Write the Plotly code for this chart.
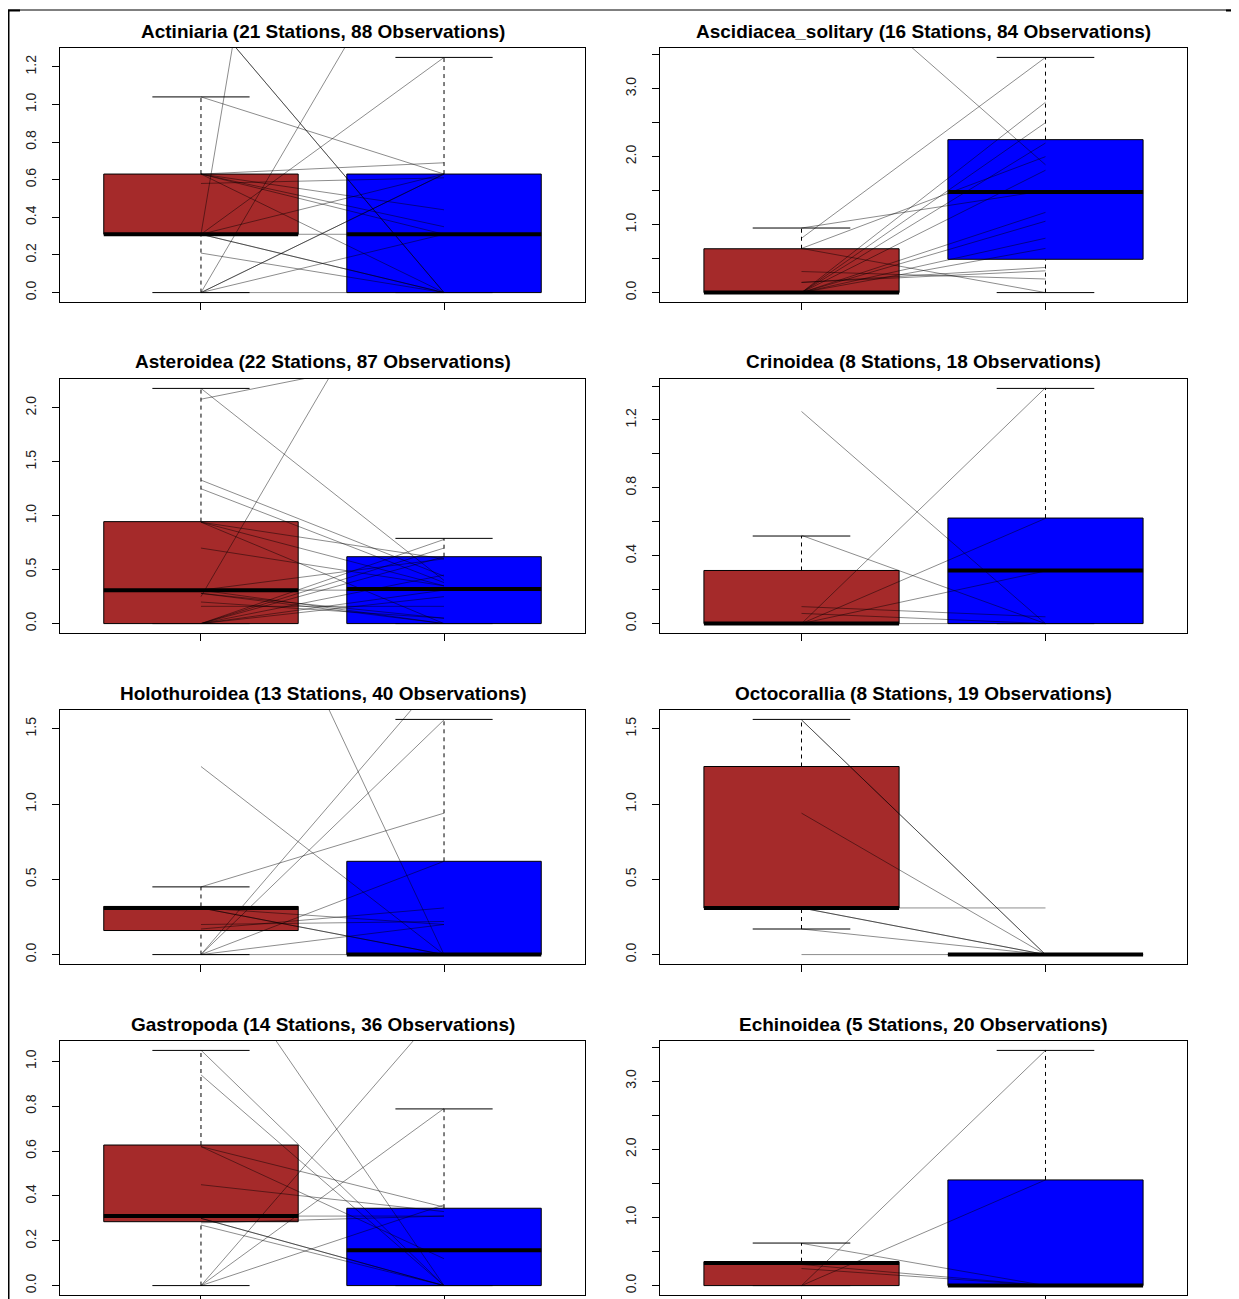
import plotly.graph_objects as go

W, H = 1239, 1299
OFF = 8  # the page body margin in the browser

titles = [
    "Actiniaria (21 Stations, 88 Observations)",
    "Ascidiacea_solitary (16 Stations, 84 Observations)",
    "Asteroidea (22 Stations, 87 Observations)",
    "Crinoidea (8 Stations, 18 Observations)",
    "Holothuroidea (13 Stations, 40 Observations)",
    "Octocorallia (8 Stations, 19 Observations)",
    "Gastropoda (14 Stations, 36 Observations)",
    "Echinoidea (5 Stations, 20 Observations)",
]

# box statistics: [lower whisker, q1, median, q3, upper whisker]
stats_before = [
    [0.0, 0.31, 0.31, 0.63, 1.04],
    [0.0, 0.0, 0.0, 0.645, 0.95],
    [0.0, 0.0, 0.31, 0.945, 2.18],
    [0.0, 0.0, 0.0, 0.313, 0.516],
    [0.0, 0.16, 0.31, 0.32, 0.45],
    [0.17, 0.31, 0.31, 1.25, 1.563],
    [0.0, 0.285, 0.31, 0.627, 1.049],
    [0.0, 0.0, 0.33, 0.35, 0.624],
]
stats_after = [
    [0.0, 0.0, 0.31, 0.63, 1.25],
    [0.0, 0.49, 1.48, 2.25, 3.46],
    [0.0, 0.0, 0.32, 0.62, 0.79],
    [0.0, 0.0, 0.313, 0.622, 1.386],
    [0.0, 0.0, 0.0, 0.62, 1.563],
    [0.0, 0.0, 0.0, 0.0, 0.0],
    [0.0, 0.0, 0.158, 0.345, 0.788],
    [0.0, 0.0, 0.0, 1.55, 3.45],
]

# paired station values (group 1 -> group 2)
pairs_before = [
    [1.04, 1.52, 1.52, 0.0, 0.31, 0.31, 0.63, 0.63, 0.31, 0.31, 0.21, 0.0, 0.0, 0.0, 0.63, 0.58, 0.31, 0.63, 0.31, 0.63, 0.0],
    [5.03, 0.8, 0.0, 0.0, 0.0, 0.0, 0.65, 0.0, 0.0, 0.0, 0.0, 0.31, 0.65, 0.15, 0.15, 0.95],
    [2.18, 2.08, 0.25, 1.33, 1.25, 0.94, 0.94, 0.94, 0.7, 0.31, 0.31, 0.28, 0.0, 0.0, 0.0, 0.0, 0.0, 0.16, 0.28, 0.2, 0.31, 0.0],
    [1.25, 0.0, 0.52, 0.0, 0.0, 0.1, 0.06, 0.0],
    [1.25, 3.44, 0.0, 0.0, 0.45, 0.0, 0.17, 0.31, 0.31, 0.0, 0.2, 0.31, 0.0],
    [1.56, 1.56, 0.94, 0.31, 0.31, 0.31, 0.17, 0.0],
    [1.05, 0.94, 1.58, 0.0, 0.0, 0.62, 0.45, 0.31, 0.28, 0.3, 0.3, 0.27, 0.0, 0.62],
    [0.0, 0.0, 0.62, 0.31, 0.25],
]
pairs_after = [
    [0.63, 0.0, 0.0, 2.2, 1.25, 8.0, 0.35, 0.0, 0.0, 0.0, 0.0, 0.31, 0.63, 0.63, 0.69, 0.61, 0.63, 0.31, 0.31, 0.44, 0.0],
    [1.88, 3.46, 2.8, 2.5, 2.2, 1.8, 2.0, 1.18, 1.05, 0.8, 0.65, 0.2, 0.0, 0.37, 0.32, 1.5],
    [0.4, 2.53, 4.1, 0.44, 0.38, 0.6, 0.35, 0.0, 0.35, 0.6, 0.31, 0.0, 0.78, 0.7, 0.45, 0.62, 0.31, 0.16, 0.05, 0.05, 0.0, 0.25],
    [0.0, 1.39, 0.0, 0.62, 0.31, 0.04, 0.0, 0.0],
    [0.0, 0.0, 1.88, 1.56, 0.94, 0.62, 0.31, 0.0, 0.0, 0.2, 0.22, 0.2, 0.0],
    [0.0, 0.0, 0.0, 0.0, 0.0, 0.31, 0.0, 0.0],
    [0.0, 0.0, 0.0, 1.25, 0.79, 0.35, 0.33, 0.31, 0.31, 0.0, 0.0, 0.0, 0.36, 0.12],
    [3.45, 1.55, 0.0, 0.0, 0.0],
]

ytick_vals = [
    [0.0, 0.2, 0.4, 0.6, 0.8, 1.0, 1.2],
    [0.0, 0.5, 1.0, 1.5, 2.0, 2.5, 3.0, 3.5],
    [0.0, 0.5, 1.0, 1.5, 2.0],
    [0.0, 0.2, 0.4, 0.6, 0.8, 1.0, 1.2, 1.4],
    [0.0, 0.5, 1.0, 1.5],
    [0.0, 0.5, 1.0, 1.5],
    [0.0, 0.2, 0.4, 0.6, 0.8, 1.0],
    [0.0, 0.5, 1.0, 1.5, 2.0, 2.5, 3.0, 3.5],
]
ytick_text = [
    ["0.0", "0.2", "0.4", "0.6", "0.8", "1.0", "1.2"],
    ["0.0", "", "1.0", "", "2.0", "", "3.0", ""],
    ["0.0", "0.5", "1.0", "1.5", "2.0"],
    ["0.0", "", "0.4", "", "0.8", "", "1.2", ""],
    ["0.0", "0.5", "1.0", "1.5"],
    ["0.0", "0.5", "1.0", "1.5"],
    ["0.0", "0.2", "0.4", "0.6", "0.8", "1.0"],
    ["0.0", "", "1.0", "", "2.0", "", "3.0", ""],
]

group_pos = [1, 2]
box_colors = ["#A52A2A", "#0000FF"]
BOX_HALF = 0.4
CAP_HALF = 0.2
LINE_COLOR = "rgba(0,0,0,0.45)"
FONT = "Liberation Sans, Arial, sans-serif"

# layout geometry (page pixels)
col_left = [60, 660]
col_right = [585, 1187]
row_top = [48, 379, 710, 1041]
row_bottom = [302, 633, 964, 1295]


def fx(px):
    return (px - OFF) / W


def fy(py):
    return 1 - (py - OFF) / H


fig = go.Figure()
layout = {}
annotations = []

for i in range(8):
    r, c = divmod(i, 2)
    n = i + 1
    xa = "x" if n == 1 else f"x{n}"
    ya = "y" if n == 1 else f"y{n}"
    xkey = "xaxis" if n == 1 else f"xaxis{n}"
    ykey = "yaxis" if n == 1 else f"yaxis{n}"

    groups = [stats_before[i], stats_after[i]]
    lo = min(g[0] for g in groups)
    hi = max(g[4] for g in groups)
    span = hi - lo
    yr = [lo - 0.04 * span, hi + 0.04 * span]
    xr = [0.5 - 0.04 * 2, 2.5 + 0.04 * 2]

    for g, st in enumerate(groups):
        cx = group_pos[g]
        lw, q1, md, q3, uw = st
        # whiskers (dashed)
        fig.add_trace(go.Scatter(x=[cx, cx, None, cx, cx], y=[q3, uw, None, lw, q1],
                                 mode="lines", line=dict(color="black", width=1, dash="4px,4px"),
                                 xaxis=xa, yaxis=ya, hoverinfo="skip", showlegend=False))
        # staples
        fig.add_trace(go.Scatter(x=[cx - CAP_HALF, cx + CAP_HALF, None, cx - CAP_HALF, cx + CAP_HALF],
                                 y=[uw, uw, None, lw, lw],
                                 mode="lines", line=dict(color="black", width=1),
                                 xaxis=xa, yaxis=ya, hoverinfo="skip", showlegend=False))
        # box
        fig.add_trace(go.Scatter(x=[cx - BOX_HALF, cx + BOX_HALF, cx + BOX_HALF, cx - BOX_HALF, cx - BOX_HALF],
                                 y=[q1, q1, q3, q3, q1], fill="toself", fillcolor=box_colors[g],
                                 mode="lines", line=dict(color="black", width=1),
                                 xaxis=xa, yaxis=ya, hoverinfo="skip", showlegend=False))
        # median
        fig.add_trace(go.Scatter(x=[cx - BOX_HALF, cx + BOX_HALF], y=[md, md],
                                 mode="lines", line=dict(color="black", width=4),
                                 xaxis=xa, yaxis=ya, hoverinfo="skip", showlegend=False))

    # paired station lines
    for b, a in zip(pairs_before[i], pairs_after[i]):
        fig.add_trace(go.Scatter(x=group_pos, y=[b, a], mode="lines",
                                 line=dict(color=LINE_COLOR, width=1),
                                 xaxis=xa, yaxis=ya, hoverinfo="skip", showlegend=False))

    xd = [fx(col_left[c]), fx(col_right[c])]
    yd = [fy(row_bottom[r]), fy(row_top[r])]
    layout[xkey] = dict(domain=xd, range=xr, anchor=ya, tickvals=group_pos, ticktext=["", ""],
                        ticks="outside", ticklen=7, tickcolor="black", tickwidth=1,
                        showline=True, mirror=True, linecolor="black", linewidth=1,
                        showgrid=False, zeroline=False, fixedrange=True)
    layout[ykey] = dict(domain=yd, range=yr, anchor=xa, tickvals=ytick_vals[i], ticktext=ytick_text[i],
                        ticks="outside", ticklen=7, tickcolor="black", tickwidth=1, tickangle=-90,
                        ticklabelstandoff=10,
                        tickfont=dict(family=FONT, size=14, color="#222"),
                        showline=True, mirror=True, linecolor="black", linewidth=1,
                        showgrid=False, zeroline=False, fixedrange=True)
    annotations.append(dict(text=titles[i], xref="paper", yref="paper",
                            x=fx((col_left[c] + col_right[c]) / 2), y=fy(row_top[r] - 17),
                            xanchor="center", yanchor="middle", showarrow=False,
                            font=dict(family=FONT, size=19, color="black", weight="bold")))

shapes = [
    dict(type="line", xref="paper", yref="paper", x0=fx(8), x1=1, y0=fy(10), y1=fy(10),
         line=dict(color="black", width=1)),
    dict(type="line", xref="paper", yref="paper", x0=fx(8.5), x1=fx(8.5), y0=fy(10), y1=0,
         line=dict(color="black", width=2)),
    dict(type="line", xref="paper", yref="paper", x0=fx(8), x1=fx(20), y0=fy(10.5), y1=fy(10.5),
         line=dict(color="black", width=2)),
    dict(type="line", xref="paper", yref="paper", x0=fx(1226), x1=fx(1239), y0=fy(10.5), y1=fy(10.5),
         line=dict(color="black", width=2)),
]

fig.update_layout(width=W, height=H, margin=dict(l=0, r=0, t=0, b=0),
                  paper_bgcolor="white", plot_bgcolor="white",
                  annotations=annotations, shapes=shapes, showlegend=False, **layout)

fig.write_html("out.html")
